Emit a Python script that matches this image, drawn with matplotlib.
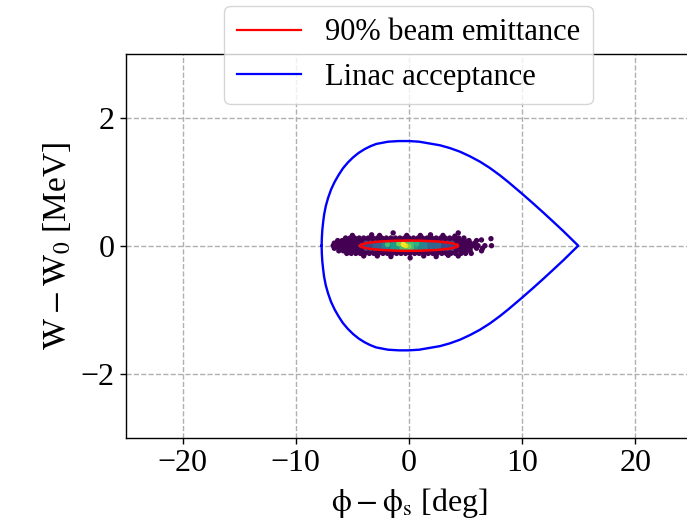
import numpy as np
import matplotlib
matplotlib.use("Agg")
import matplotlib.pyplot as plt
from matplotlib.patches import Ellipse
from matplotlib.lines import Line2D

plt.rcParams['font.family'] = 'serif'
plt.rcParams['font.serif'] = ['Liberation Serif', 'DejaVu Serif']
plt.rcParams['mathtext.fontset'] = 'stix'

# separatrix (upper half); lower half is the mirror
sep_phi = [-7.72, -7.70, -7.66, -7.59, -7.50, -7.35, -7.15, -6.88, -6.56, -6.2,
           -5.83, -5.4, -4.94, -4.45, -3.91, -3.4, -2.89, -1.85, -0.9, 0.0,
           0.9, 1.85, 2.74, 3.62, 4.50, 5.38, 6.27, 7.15, 8.03, 8.77,
           9.95, 10.97, 11.85, 12.74, 13.62, 14.95]
sep_w = [0.0, 0.12, 0.24, 0.36, 0.485, 0.62, 0.745, 0.88, 1.0, 1.11,
         1.21, 1.30, 1.38, 1.45, 1.51, 1.555, 1.59, 1.625, 1.635, 1.635,
         1.625, 1.596, 1.569, 1.525, 1.469, 1.397, 1.313, 1.214, 1.10, 0.995,
         0.818, 0.66, 0.52, 0.375, 0.23, 0.0]

# 90% emittance ellipse
ell_center = (0.0, 0.0)
ell_width = 8.65   # deg
ell_height = 0.16  # MeV

# particle cloud, outer (low density) rows
halo_w = [0.12, 0.08, 0.04, 0.0, -0.04, -0.08, -0.12]
halo_phi = [
    [-5.6, -5.2, -4.8, -4.4, -4.0, -3.6, -3.2, -2.8, -2.4, -2.0, -1.6, -1.2, -0.8, -0.4,
     0.0, 0.4, 0.8, 1.2, 1.6, 2.0, 2.4, 2.8, 3.2, 3.6, 4.0, 4.4, 4.85],
    [-6.3, -5.9, -5.5, -5.1, -4.7, -4.3, -3.9, -3.5, -3.1, -2.7, -2.3, -1.9, -1.5, -1.1,
     -0.7, -0.3, 0.1, 0.5, 0.9, 1.3, 1.7, 2.1, 2.5, 2.9, 3.3, 3.7, 4.1, 4.5, 4.9, 5.3, 5.97],
    [-6.6, -6.2, -5.8, -5.4, -5.0, -4.6, -4.2, 4.2, 4.6, 5.0, 5.4, 5.8],
    [-6.7, -6.3, -5.9, -5.5, -5.1, -4.7, 4.5, 4.9, 5.3, 5.7, 6.1, 6.7, 7.29],
    [-6.6, -6.2, -5.8, -5.4, -5.0, -4.6, -4.2, 4.2, 4.6, 5.0, 5.4, 5.97, 6.5],
    [-6.2, -5.8, -5.4, -5.0, -4.6, -4.2, -3.8, -3.4, -3.0, -2.6, -2.2, -1.8, -1.4, -1.0,
     -0.6, -0.2, 0.2, 0.6, 1.0, 1.4, 1.8, 2.2, 2.6, 3.0, 3.4, 3.8, 4.2, 4.6, 5.0, 5.4, 6.41],
    [-5.5, -5.1, -4.7, -4.3, -3.9, -3.5, -3.1, -2.7, -2.3, -1.9, -1.5, -1.1, -0.7, -0.3,
     0.1, 0.5, 0.9, 1.3, 1.7, 2.1, 2.5, 2.9, 3.3, 3.7, 4.1, 4.6, 5.0],
]
stray_phi = [-5.0, -3.3, -2.6, -1.4, -0.2, 1.0, 1.9, 3.0, 4.06, 4.35, 7.24, 6.4,
             -4.0, -2.8, -1.6, 0.1, 1.3, 2.4, 3.47, 4.35, 5.5]
stray_w = [0.16, 0.17, 0.16, 0.2, 0.16, 0.16, 0.17, 0.16, 0.15, 0.2, 0.11, 0.09,
           -0.16, -0.16, -0.17, -0.19, -0.16, -0.17, -0.15, -0.16, -0.12]

# dense core rows inside the ellipse
core_w = [0.04, 0.0, -0.04]
core_phi = [
    [-3.8, -3.4, -3.0, -2.6, -2.2, -1.8, -1.4, -1.0, -0.6, -0.2, 0.2, 0.6, 1.0, 1.4,
     1.8, 2.2, 2.6, 3.0, 3.4, 3.8],
    [-4.2, -3.8, -3.4, -3.0, -2.6, -2.2, -1.8, -1.4, -1.0, -0.6, -0.2, 0.2, 0.6, 1.0,
     1.4, 1.8, 2.2, 2.6, 3.0, 3.4, 3.8, 4.2],
    [-3.8, -3.4, -3.0, -2.6, -2.2, -1.8, -1.4, -1.0, -0.6, -0.2, 0.2, 0.6, 1.0, 1.4,
     1.8, 2.2, 2.6, 3.0, 3.4, 3.8],
]
# relative density along phi in the core
core_edges = [-3.2, -2.4, -1.4, -0.8, 0.3, 1.0, 1.8, 2.8]
core_level = [0.2, 0.3, 0.42, 0.55, 0.7, 0.55, 0.45, 0.33, 0.22]

# hot spots
hot_phi = [-1.9, 0.7, -0.9, 0.0, -0.3, -0.5]
hot_w = [0.02, 0.03, 0.03, -0.01, 0.0, 0.02]
hot_level = [0.7, 0.65, 0.8, 0.8, 0.95, 1.0]

fig = plt.figure(figsize=(6.87, 5.30), dpi=100)
ax = fig.add_axes([126 / 687, 92.3 / 530, 566 / 687, 384 / 530])

cmap = plt.get_cmap('viridis')

hx, hy = [], []
for w, row in zip(halo_w, halo_phi):
    hx += row
    hy += [w] * len(row)
hx += stray_phi
hy += stray_w
ax.scatter(hx, hy, s=15, color=cmap(0.0), edgecolors='none', zorder=2)

cx, cy, cv = [], [], []
for w, row in zip(core_w, core_phi):
    for p in row:
        cx.append(p)
        cy.append(w)
        cv.append(core_level[np.digitize(p, core_edges)])
cx += hot_phi
cy += hot_w
cv += hot_level
order = np.argsort(cv)
ax.scatter(np.array(cx)[order], np.array(cy)[order], s=15, c=np.array(cv)[order],
           cmap=cmap, vmin=0, vmax=1, edgecolors='none', zorder=3)

ax.add_patch(Ellipse(ell_center, ell_width, ell_height, fill=False,
                     edgecolor='red', linewidth=1.8, zorder=4))

sep_phi = np.array(sep_phi)
sep_w = np.array(sep_w)
ax.plot(np.concatenate([sep_phi, sep_phi[::-1]]),
        np.concatenate([sep_w, -sep_w[::-1]]),
        color='blue', linewidth=1.7, zorder=5)

ax.set_xlim(-25, 25)
ax.set_ylim(-3, 3)
ax.set_xticks([-20, -10, 0, 10, 20])
ax.set_yticks([-2, 0, 2])
ax.grid(True, linestyle='--', color='#b0b0b0', linewidth=1.0)
ax.set_axisbelow(True)
ax.tick_params(labelsize=23, length=4.5, width=1.0)
for sp in ax.spines.values():
    sp.set_linewidth(1.0)

ax.set_xlabel(r'$\mathrm{\phi - \phi_s}$ [deg]', fontsize=23, labelpad=6)
ax.set_ylabel(r'$\mathrm{W - W_0}$ [MeV]', fontsize=24, labelpad=6)

handles = [Line2D([], [], color='red', linewidth=1.6),
           Line2D([], [], color='blue', linewidth=1.6)]
fig.legend(handles, ['90% beam emittance', 'Linac acceptance'],
           loc='upper center', bbox_to_anchor=(408.5 / 687, 524 / 530),
           borderaxespad=0, fontsize=22, handlelength=2.1)

fig.savefig('out.png', dpi=100)
